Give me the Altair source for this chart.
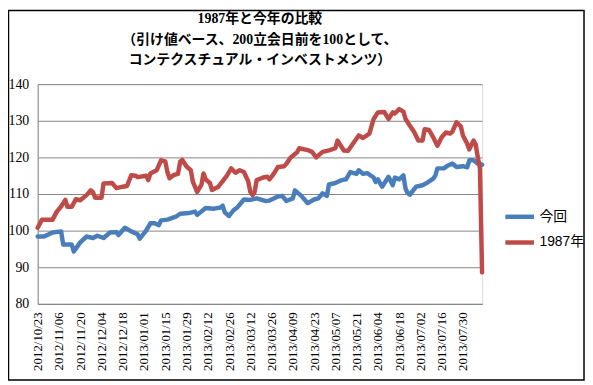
import json
import altair as alt
import pandas as pd

# ---- data (trading-day index, value) ----
title_lines = ["1987年と今年の比較",
               "（引け値ベース、200立会日前を100として、",
               "コンテクスチュアル・インベストメンツ）"]

tick_labels = ["2012/10/23", "2012/11/06", "2012/11/20", "2012/12/04", "2012/12/18",
               "2013/01/01", "2013/01/15", "2013/01/29", "2013/02/12", "2013/02/26",
               "2013/03/12", "2013/03/26", "2013/04/09", "2013/04/23", "2013/05/07",
               "2013/05/21", "2013/06/04", "2013/06/18", "2013/07/02", "2013/07/16",
               "2013/07/30"]

days_now = [0, 3, 7, 11, 12, 16, 17, 20, 23, 26, 28, 31, 34, 37, 38, 41, 44, 47, 48, 51,
            53, 55, 57, 58, 61, 65, 67, 71, 74, 75, 79, 83, 86, 87, 88, 90, 92, 94, 97, 100,
            103, 107, 109, 113, 115, 117, 120, 121, 124, 127, 130, 132, 134, 136, 137, 140,
            143, 145, 147, 150, 151, 153, 155, 158, 159, 160, 162, 165, 167, 168, 170, 172,
            173, 174, 175, 178, 181, 183, 186, 187, 188, 191, 193, 195, 197, 200, 202, 203,
            205, 207, 208, 209]
vals_now = [98.4, 98.4, 99.5, 99.8, 96.2, 96.2, 94.3, 96.8, 98.4, 98.0, 98.6, 98.0, 99.5,
            99.6, 98.8, 100.8, 99.8, 99.0, 97.8, 100.0, 102.0, 102.0, 101.5, 102.8, 103.0,
            103.8, 104.6, 104.8, 105.2, 104.3, 106.2, 106.0, 106.3, 106.8, 105.0, 104.0,
            105.5, 106.4, 108.5, 108.4, 108.8, 108.1, 108.2, 109.3, 109.5, 108.1, 108.8,
            111.0, 109.5, 107.5, 108.5, 108.8, 110.2, 109.5, 112.6, 113.0, 113.8, 114.0,
            116.0, 115.5, 116.5, 115.5, 115.7, 114.5, 113.3, 114.0, 112.0, 114.7, 112.4,
            114.5, 114.0, 115.1, 111.5, 110.2, 109.8, 112.0, 112.4, 113.0, 114.2, 115.0,
            117.0, 117.0, 117.8, 118.3, 117.4, 117.6, 117.3, 119.2, 119.2, 118.3, 118.3,
            118.0]

days_1987 = [0, 2, 7, 9, 11, 13, 14, 16, 18, 20, 23, 25, 26, 27, 30, 31, 35, 37, 40, 42,
             44, 46, 47, 51, 52, 53, 56, 58, 60, 61, 62, 64, 66, 67, 68, 70, 72, 73, 75, 77,
             78, 79, 81, 82, 85, 87, 89, 91, 93, 95, 97, 99, 100, 101, 102, 103, 106, 108,
             109, 111, 113, 116, 117, 119, 122, 123, 127, 129, 131, 134, 137, 140, 141, 144,
             146, 148, 151, 153, 156, 158, 160, 163, 165, 167, 168, 170, 172, 173, 175, 177,
             179, 181, 182, 184, 186, 188, 190, 192, 194, 195, 197, 199, 200, 202, 203, 205,
             206, 207, 208, 209]
vals_1987 = [100.8, 103.0, 103.0, 105.2, 106.6, 108.4, 106.5, 106.5, 108.6, 108.3, 109.7,
             111.0, 110.5, 109.0, 109.0, 112.9, 113.0, 111.6, 112.0, 112.2, 115.1, 115.0,
             114.6, 115.0, 113.8, 115.6, 116.5, 119.2, 118.9, 116.0, 114.3, 115.2, 115.5,
             118.8, 119.3, 117.5, 116.5, 113.3, 110.6, 112.5, 115.6, 114.0, 113.0, 111.1,
             112.0, 113.5, 115.0, 117.0, 115.8, 116.5, 116.0, 113.5, 110.6, 109.7, 110.5,
             113.8, 114.5, 114.7, 114.0, 115.5, 117.4, 117.6, 118.3, 120.0, 121.4, 122.5,
             122.0, 121.5, 120.0, 121.5, 121.9, 122.5, 124.6, 121.9, 121.8, 123.5, 126.0,
             125.3, 126.5, 130.5, 132.3, 132.4, 130.5, 132.3, 132.0, 133.2, 132.5, 130.5,
             128.7, 127.0, 124.6, 124.6, 127.7, 127.5, 125.5, 123.2, 125.5, 126.8, 126.5,
             127.0, 129.6, 128.5, 126.0, 123.7, 122.2, 124.6, 123.5, 120.0, 117.0, 88.6]

series_names = ["今回", "1987年"]
series_colors = ["#4A7EBB", "#BE4B48"]

df = pd.concat([
    pd.DataFrame({"day": days_now, "value": vals_now, "series": series_names[0], "ord": 0}),
    pd.DataFrame({"day": days_1987, "value": vals_1987, "series": series_names[1], "ord": 1}),
], ignore_index=True)

W, H = 449, 222
serif = "Liberation Serif, Noto Sans CJK JP"
sans = "Liberation Sans, Noto Sans CJK JP"

label_expr = json.dumps(tick_labels) + "[round(datum.value / 10)]"

lines = alt.Chart(df).mark_line(strokeWidth=4.5, strokeJoin="round", strokeCap="round").encode(
    x=alt.X("day:Q",
            scale=alt.Scale(domain=[0, 209], nice=False, zero=False),
            axis=alt.Axis(values=list(range(0, 201, 10)), labelExpr=label_expr,
                          labelAngle=-90, grid=False, ticks=False, labelPadding=8,
                          labelFont=serif, labelFontSize=13, labelColor="#000000",
                          domainColor="#868686", title=None)),
    y=alt.Y("value:Q",
            scale=alt.Scale(domain=[80, 140], nice=False, zero=False),
            axis=alt.Axis(values=[80, 90, 100, 110, 120, 130, 140], grid=True,
                          gridColor="#868686", ticks=False, labelPadding=9,
                          labelFont=serif, labelFontSize=14, labelColor="#000000",
                          domainColor="#868686", title=None)),
    color=alt.Color("series:N",
                    scale=alt.Scale(domain=series_names, range=series_colors),
                    legend=alt.Legend(title=None, orient="none", legendX=470, legendY=117,
                                      symbolType="stroke", symbolSize=841,
                                      symbolStrokeWidth=4.5, rowPadding=-5,
                                      labelFont=sans, labelFontSize=14, labelColor="#000000",
                                      labelOffset=3)),
    order=alt.Order("ord:Q"),
    detail="series:N",
)

title = alt.Chart(pd.DataFrame({"t": ["\n".join(title_lines)]})).mark_text(
    font=serif, fontSize=14, fontWeight="bold", lineHeight=21, lineBreak="\n",
    align="center", baseline="top", color="#000000"
).encode(
    text="t:N", x=alt.value(W / 2), y=alt.value(-73)
)

border = alt.Chart(pd.DataFrame({"a": [0]})).mark_rect(
    fill="transparent", stroke="#000000", strokeWidth=1.5
).encode(
    x=alt.value(-29.5), x2=alt.value(W + 103), y=alt.value(-74.5), y2=alt.value(H + 77)
)

chart = alt.layer(lines, title, border).properties(
    width=W, height=H,
    autosize=alt.AutoSizeParams(type="none"),
    padding={"left": 30, "top": 75, "right": 104, "bottom": 78},
).configure_view(stroke=None).configure(background="white")

chart.save("out.html", embed_options={"renderer": "svg", "actions": False})
